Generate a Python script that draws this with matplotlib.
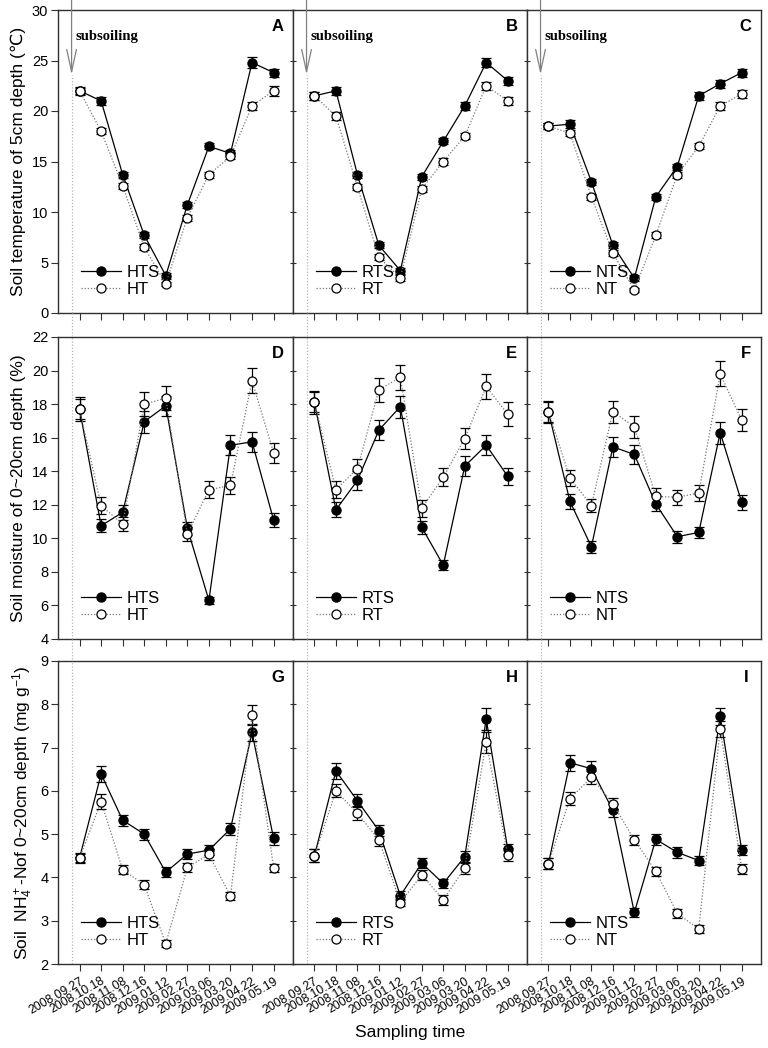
import matplotlib
matplotlib.use("Agg")
import matplotlib.pyplot as plt
import numpy as np
from matplotlib.lines import Line2D
from matplotlib.transforms import blended_transform_factory

plt.rcParams['font.family'] = ['Liberation Sans', 'DejaVu Sans']
plt.rcParams['mathtext.fontset'] = 'custom'
plt.rcParams['mathtext.rm'] = 'Liberation Sans'
plt.rcParams['mathtext.it'] = 'Liberation Sans:italic'
plt.rcParams['mathtext.bf'] = 'Liberation Sans:bold'

dates = ["2008.09.27", "2008.10.18", "2008.11.08", "2008.12.16", "2009.01.12",
         "2009.02.27", "2009.03.06", "2009.03.20", "2009.04.22", "2009.05.19"]

# Row 1: soil temperature at 5 cm
temp_HTS = [22.0, 21.0, 13.7, 7.7, 3.7, 10.7, 16.5, 15.8, 24.8, 23.8]
temp_HTS_err = [0.3, 0.4, 0.3, 0.3, 0.3, 0.3, 0.3, 0.3, 0.5, 0.4]
temp_HT = [22.0, 18.0, 12.6, 6.5, 2.9, 9.45, 13.7, 15.5, 20.5, 22.0]
temp_HT_err = [0.4, 0.3, 0.3, 0.3, 0.2, 0.3, 0.3, 0.3, 0.4, 0.5]
temp_RTS = [21.5, 22.0, 13.7, 6.7, 4.2, 13.5, 17.0, 20.5, 24.8, 23.0]
temp_RTS_err = [0.4, 0.4, 0.3, 0.3, 0.3, 0.3, 0.3, 0.4, 0.4, 0.4]
temp_RT = [21.5, 19.5, 12.5, 5.5, 3.5, 12.3, 15.0, 17.5, 22.5, 21.0]
temp_RT_err = [0.4, 0.4, 0.3, 0.3, 0.3, 0.3, 0.3, 0.3, 0.4, 0.4]
temp_NTS = [18.5, 18.7, 13.0, 6.7, 3.45, 11.5, 14.5, 21.5, 22.7, 23.8]
temp_NTS_err = [0.3, 0.4, 0.3, 0.3, 0.3, 0.3, 0.3, 0.4, 0.4, 0.4]
temp_NT = [18.5, 17.8, 11.5, 5.9, 2.3, 7.7, 13.7, 16.5, 20.5, 21.7]
temp_NT_err = [0.3, 0.3, 0.3, 0.3, 0.2, 0.3, 0.3, 0.3, 0.4, 0.4]

# Row 2: soil moisture 0-20 cm
moist_HTS = [17.7, 10.75, 11.55, 16.95, 17.9, 10.6, 6.3, 15.55, 15.75, 11.1]
moist_HTS_err = [0.6, 0.4, 0.45, 0.65, 0.6, 0.4, 0.2, 0.6, 0.6, 0.4]
moist_HT = [17.7, 11.95, 10.85, 18.0, 18.35, 10.25, 12.9, 13.15, 19.4, 15.1]
moist_HT_err = [0.7, 0.5, 0.4, 0.7, 0.7, 0.4, 0.5, 0.5, 0.75, 0.6]
moist_RTS = [18.1, 11.7, 13.45, 16.45, 17.85, 10.65, 8.4, 14.3, 15.55, 13.7]
moist_RTS_err = [0.6, 0.45, 0.55, 0.6, 0.65, 0.4, 0.3, 0.6, 0.6, 0.5]
moist_RT = [18.1, 12.9, 14.15, 18.85, 19.6, 11.8, 13.65, 15.95, 19.05, 17.4]
moist_RT_err = [0.7, 0.5, 0.55, 0.7, 0.75, 0.5, 0.55, 0.6, 0.75, 0.7]
moist_NTS = [17.55, 12.2, 9.5, 15.45, 15.0, 12.05, 10.1, 10.35, 16.3, 12.15]
moist_NTS_err = [0.6, 0.45, 0.35, 0.6, 0.55, 0.45, 0.35, 0.35, 0.65, 0.45]
moist_NT = [17.55, 13.6, 11.95, 17.55, 16.65, 12.5, 12.45, 12.7, 19.8, 17.05]
moist_NT_err = [0.65, 0.5, 0.4, 0.65, 0.65, 0.5, 0.45, 0.45, 0.75, 0.65]

# Row 3: soil NH4+-N 0-20 cm
nh4_HTS = [4.45, 6.39, 5.32, 5.0, 4.12, 4.54, 4.63, 5.12, 7.35, 4.9]
nh4_HTS_err = [0.12, 0.18, 0.13, 0.13, 0.12, 0.12, 0.12, 0.13, 0.2, 0.14]
nh4_HT = [4.45, 5.75, 4.18, 3.83, 2.47, 4.23, 4.53, 3.57, 7.75, 4.22]
nh4_HT_err = [0.1, 0.18, 0.1, 0.1, 0.08, 0.1, 0.12, 0.09, 0.23, 0.1]
nh4_RTS = [4.5, 6.46, 5.77, 5.08, 3.58, 4.33, 3.86, 4.48, 7.66, 4.66]
nh4_RTS_err = [0.15, 0.18, 0.15, 0.13, 0.1, 0.12, 0.1, 0.14, 0.25, 0.12]
nh4_RT = [4.5, 6.0, 5.48, 4.87, 3.42, 4.06, 3.48, 4.22, 7.12, 4.52]
nh4_RT_err = [0.15, 0.15, 0.16, 0.15, 0.08, 0.12, 0.12, 0.14, 0.25, 0.15]
nh4_NTS = [4.32, 6.65, 6.51, 5.55, 3.19, 4.88, 4.58, 4.39, 7.72, 4.64]
nh4_NTS_err = [0.12, 0.18, 0.18, 0.15, 0.1, 0.12, 0.12, 0.1, 0.2, 0.12]
nh4_NT = [4.32, 5.82, 6.31, 5.7, 4.87, 4.14, 3.17, 2.81, 7.43, 4.2]
nh4_NT_err = [0.12, 0.15, 0.15, 0.13, 0.12, 0.1, 0.1, 0.1, 0.18, 0.12]

panel_letters = [["A", "B", "C"], ["D", "E", "F"], ["G", "H", "I"]]
series_names = [("HTS", "HT"), ("RTS", "RT"), ("NTS", "NT")]
row_data = [
    [(temp_HTS, temp_HTS_err, temp_HT, temp_HT_err),
     (temp_RTS, temp_RTS_err, temp_RT, temp_RT_err),
     (temp_NTS, temp_NTS_err, temp_NT, temp_NT_err)],
    [(moist_HTS, moist_HTS_err, moist_HT, moist_HT_err),
     (moist_RTS, moist_RTS_err, moist_RT, moist_RT_err),
     (moist_NTS, moist_NTS_err, moist_NT, moist_NT_err)],
    [(nh4_HTS, nh4_HTS_err, nh4_HT, nh4_HT_err),
     (nh4_RTS, nh4_RTS_err, nh4_RT, nh4_RT_err),
     (nh4_NTS, nh4_NTS_err, nh4_NT, nh4_NT_err)],
]
row_ylims = [(0, 30), (4, 22), (2, 9)]
row_yticks = [np.arange(0, 31, 5), np.arange(4, 23, 2), np.arange(2, 10, 1)]
row_ylabels = ["Soil temperature of 5cm depth (\u2103)",
               "Soil moisture of 0~20cm depth (%)",
               "Soil  NH$_4^+$-Nof 0~20cm depth (mg g$^{-1}$)"]
subsoil_x = -0.37
arrow_tip = 23.6

W, H = 768, 1048
fig = plt.figure(figsize=(W / 100, H / 100), dpi=100)

col_px = [(58, 293), (293, 527), (527, 761)]
row_px = [(10, 313), (337, 639), (661, 964)]
spine_col = "#303030"
dot_ls = (0, (1, 1.5))
MS = 6.5

axes = [[None] * 3 for _ in range(3)]
x = np.arange(len(dates))
for r in range(3):
    for c in range(3):
        x0, x1 = col_px[c]
        t0, t1 = row_px[r]
        ax = fig.add_axes([x0 / W, 1 - t1 / H, (x1 - x0) / W, (t1 - t0) / H])
        axes[r][c] = ax
        s_vals, s_err, o_vals, o_err = row_data[r][c]
        n_s, n_o = series_names[c]
        ax.errorbar(x, s_vals, yerr=s_err, color="black", lw=0.9, ls="-",
                    marker="o", ms=MS, mfc="black", mec="black",
                    ecolor="black", elinewidth=0.9, capsize=3.5, capthick=0.9,
                    zorder=3)
        ax.errorbar(x, o_vals, yerr=o_err, color="#777777", lw=0.9, ls=dot_ls,
                    marker="o", ms=MS, mfc="white", mec="black", mew=0.9,
                    ecolor="black", elinewidth=0.9, capsize=3.5, capthick=0.9,
                    zorder=4)
        ax.set_xlim(-1.0, 9.9)
        ax.set_ylim(*row_ylims[r])
        ax.set_yticks(row_yticks[r])
        ax.set_xticks(x)
        for sp in ax.spines.values():
            sp.set_color(spine_col)
            sp.set_linewidth(1.0)
        ax.tick_params(axis="x", direction="out", length=5, width=0.8, color=spine_col)
        if c == 0:
            ax.tick_params(axis="y", direction="out", length=5, width=0.8,
                           color=spine_col, labelsize=10.5, pad=2)
            ax.set_ylabel(row_ylabels[r], fontsize=12.5, labelpad=4)
        else:
            ax.tick_params(axis="y", direction="inout", length=5, width=0.8,
                           color=spine_col, labelleft=False)
        if r == 2:
            ax.set_xticklabels(dates, rotation=30, ha="right", rotation_mode="anchor",
                               fontsize=8.8)
            ax.tick_params(axis="x", pad=3)
        else:
            ax.set_xticklabels([])
        ax.text(0.935, 0.945, panel_letters[r][c], transform=ax.transAxes,
                fontsize=12, fontweight="bold", ha="center", va="center")
        handles = [
            Line2D([], [], color="black", lw=0.9, ls="-", marker="o", ms=MS,
                   mfc="black", mec="black"),
            Line2D([], [], color="#777777", lw=0.9, ls=dot_ls, marker="o", ms=MS,
                   mfc="white", mec="black", mew=0.9),
        ]
        ax.legend(handles, [n_s, n_o], loc="lower left", bbox_to_anchor=(0.05, 0.015),
                  frameon=False, fontsize=12, handlelength=2.4, handletextpad=0.3,
                  labelspacing=0.1, borderpad=0.2)
        ax.axvline(subsoil_x, color="#b5b5b5", lw=0.9, ls=dot_ls, zorder=1,
                   ymax=1 if r > 0 else (arrow_tip - row_ylims[r][0]) / (row_ylims[r][1] - row_ylims[r][0]))

# dotted subsoiling line across the gaps between rows
for r in range(2):
    for c in range(3):
        tr = blended_transform_factory(axes[r][c].transData, fig.transFigure)
        y_a = 1 - row_px[r][1] / H
        y_b = 1 - row_px[r + 1][0] / H
        fig.add_artist(Line2D([subsoil_x, subsoil_x], [y_a, y_b], transform=tr,
                              color="#b5b5b5", lw=0.9, ls=dot_ls))

# subsoiling arrows and labels
for c in range(3):
    ax = axes[0][c]
    ax.annotate("", xy=(subsoil_x, arrow_tip), xytext=(subsoil_x, 31.1),
                arrowprops=dict(arrowstyle="->,head_length=1.6,head_width=0.35",
                                color="#808080", lw=0.9, shrinkA=0, shrinkB=0),
                annotation_clip=False)
    ax.text(subsoil_x + 0.2, 27.4, "subsoiling", fontsize=10.5, fontweight="bold",
            family="Liberation Serif", ha="left", va="center")

fig.text(410 / W, 1 - 1033 / H, "Sampling time", fontsize=12.5, ha="center", va="center")

fig.savefig("out.png", dpi=100)
